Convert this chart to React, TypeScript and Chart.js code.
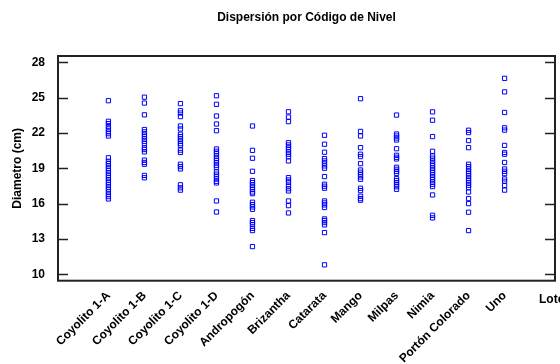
import { useEffect, useRef } from "react";
import { Chart, registerables } from "chart.js";

Chart.register(...registerables);

const chartTitle = "Dispersión por Código de Nivel";
const yAxisTitle = "Diametro (cm)";
const xAxisTitle = "Lote";

const categories = [
  "Coyolito 1-A",
  "Coyolito 1-B",
  "Coyolito 1-C",
  "Coyolito 1-D",
  "Andropogón",
  "Brizantha",
  "Catarata",
  "Mango",
  "Milpas",
  "Nimia",
  "Portón Colorado",
  "Uno",
];

const yTickValues = [10, 13, 16, 19, 22, 25, 28];

const coyolito1A = [24.75, 23.0, 22.8, 22.55, 22.35, 22.15, 21.95, 21.75, 19.9, 19.6, 19.4, 19.2, 19.0, 18.8, 18.6, 18.4, 18.2, 18.0, 17.8, 17.6, 17.4, 17.2, 17.0, 16.8, 16.6, 16.4];
const coyolito1B = [25.05, 24.55, 23.55, 22.3, 22.1, 21.9, 21.7, 21.5, 21.3, 21.1, 20.75, 20.6, 20.4, 19.7, 19.5, 19.35, 18.4, 18.2];
const coyolito1C = [24.5, 23.9, 23.7, 23.4, 22.6, 22.35, 21.9, 21.7, 21.5, 21.3, 21.1, 20.95, 20.55, 20.35, 19.35, 19.15, 18.95, 17.6, 17.35, 17.15];
const coyolito1D = [25.17, 24.44, 23.45, 22.77, 22.2, 20.65, 20.45, 20.25, 20.05, 19.85, 19.65, 19.46, 19.26, 19.09, 18.69, 18.5, 18.3, 18.1, 17.9, 17.76, 16.23, 15.29];
const andropogon = [22.6, 20.53, 19.86, 18.75, 17.96, 17.79, 17.59, 17.39, 17.19, 16.99, 16.85, 16.12, 15.92, 15.72, 15.52, 14.56, 14.39, 14.22, 13.9, 13.71, 12.35];
const brizantha = [23.81, 23.36, 22.97, 21.18, 20.99, 20.79, 20.59, 20.39, 20.2, 19.99, 19.63, 18.21, 18.01, 17.81, 17.5, 17.27, 17.08, 16.23, 15.83, 15.21];
const catarata = [21.81, 21.05, 20.37, 19.83, 19.63, 19.43, 19.21, 19.01, 18.3, 17.65, 17.48, 17.31, 16.23, 16.06, 15.89, 15.67, 14.7, 14.56, 14.39, 14.19, 13.54, 10.8];
const mango = [24.92, 22.14, 21.75, 20.76, 20.2, 20.0, 19.4, 18.86, 18.67, 18.47, 18.27, 18.07, 17.31, 17.11, 16.63, 16.43, 16.29];
const milpas = [23.53, 21.92, 21.75, 21.58, 21.41, 20.67, 20.11, 19.94, 19.8, 19.09, 18.92, 18.75, 18.58, 18.12, 17.95, 17.78, 17.61, 17.44, 17.22];
const nimia = [23.8, 23.09, 21.7, 20.45, 20.05, 19.86, 19.63, 19.43, 19.23, 19.03, 18.84, 18.64, 18.44, 18.24, 18.04, 17.84, 17.65, 17.45, 16.74, 15.01, 14.79];
const portonColorado = [22.24, 22.04, 21.36, 20.76, 19.35, 19.15, 18.95, 18.75, 18.55, 18.36, 18.16, 17.96, 17.76, 17.56, 17.36, 16.99, 16.43, 16.0, 15.27, 13.71];
const uno = [26.65, 25.5, 23.75, 22.45, 22.25, 20.95, 20.35, 20.2, 19.5, 18.95, 18.75, 18.55, 18.1, 17.9, 17.55, 17.15];

const seriesValues = [
  coyolito1A,
  coyolito1B,
  coyolito1C,
  coyolito1D,
  andropogon,
  brizantha,
  catarata,
  mango,
  milpas,
  nimia,
  portonColorado,
  uno,
];

const FONT = '"Liberation Sans", Arial, sans-serif';

const framePlugin = {
  id: "framePlugin",
  afterDraw(chart: any) {
    const { ctx, chartArea: a, scales } = chart;
    ctx.save();
    ctx.strokeStyle = "#222";
    ctx.lineWidth = 2;
    ctx.strokeRect(a.left, a.top, a.right - a.left, a.bottom - a.top);
    ctx.lineWidth = 1.5;
    yTickValues.forEach((v) => {
      const y = Math.round(scales.y.getPixelForValue(v)) + 0.5;
      ctx.beginPath();
      ctx.moveTo(a.left, y);
      ctx.lineTo(a.left + 10, y);
      ctx.moveTo(a.right - 10, y);
      ctx.lineTo(a.right, y);
      ctx.stroke();
    });
    ctx.fillStyle = "#000";
    ctx.font = `bold 12px ${FONT}`;
    ctx.textAlign = "center";
    ctx.textBaseline = "middle";
    ctx.fillText(chartTitle, (a.left + a.right) / 2, 18);
    ctx.save();
    ctx.translate(18, (a.top + a.bottom) / 2);
    ctx.rotate(-Math.PI / 2);
    ctx.fillText(yAxisTitle, 0, 0);
    ctx.restore();
    ctx.textAlign = "left";
    ctx.fillText(xAxisTitle, 539, 300);
    ctx.restore();
  },
};

export default function App() {
  const canvasRef = useRef<HTMLCanvasElement | null>(null);

  useEffect(() => {
    if (!canvasRef.current) return;
    const data = seriesValues.flatMap((vals, i) =>
      vals.map((v) => ({ x: i + 1, y: v }))
    );
    const chart = new Chart(canvasRef.current, {
      type: "scatter",
      data: {
        datasets: [
          {
            data,
            pointStyle: "rect",
            radius: 3,
            borderWidth: 1,
            borderColor: "#0000ff",
            backgroundColor: "rgba(0,0,0,0)",
          },
        ],
      },
      options: {
        responsive: false,
        animation: false,
        layout: { padding: { top: 56, right: 2, left: 0, bottom: 0 } },
        plugins: {
          legend: { display: false },
          tooltip: { enabled: false },
          title: { display: false },
        },
        scales: {
          x: {
            type: "linear",
            min: -0.4,
            max: 13.4,
            grid: { display: false },
            border: { display: false },
            afterBuildTicks: (scale: any) => {
              scale.ticks = categories.map((_, i) => ({ value: i + 1 }));
            },
            afterFit: (scale: any) => {
              scale.height = 83.3;
            },
            ticks: {
              autoSkip: false,
              minRotation: 45,
              maxRotation: 45,
              padding: 0,
              color: "#000",
              font: { family: FONT, size: 12, weight: "bold" },
              callback: (v: any) => categories[Number(v) - 1] ?? "",
            },
          },
          y: {
            type: "linear",
            min: 9.45,
            max: 28.55,
            grid: { display: false },
            border: { display: false },
            afterBuildTicks: (scale: any) => {
              scale.ticks = yTickValues.map((v) => ({ value: v }));
            },
            afterFit: (scale: any) => {
              scale.width = 58;
            },
            ticks: {
              padding: 5,
              color: "#000",
              font: { family: FONT, size: 12, weight: "bold" },
              callback: (v: any) => String(v),
            },
          },
        },
      },
      plugins: [framePlugin],
    } as any);
    return () => chart.destroy();
  }, []);

  return (
    <div style={{ position: "absolute", left: 0, top: 0, width: 560, height: 364 }}>
      <canvas ref={canvasRef} width={560} height={364} style={{ display: "block" }} />
    </div>
  );
}
